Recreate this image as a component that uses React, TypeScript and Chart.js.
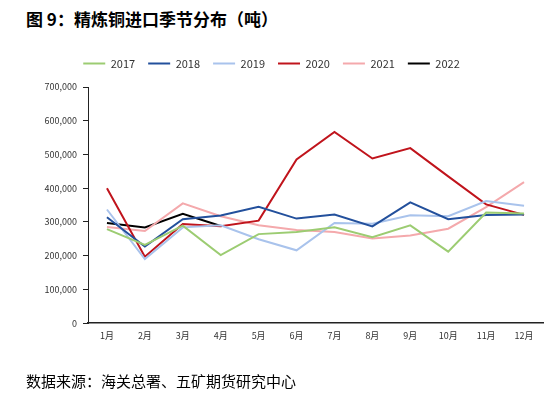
import React, { useEffect, useRef } from "react";
import { Chart, registerables } from "chart.js";

Chart.register(...registerables);

const months = ["1月", "2月", "3月", "4月", "5月", "6月", "7月", "8月", "9月", "10月", "11月", "12月"];
const s2017 = [279000, 232000, 289000, 202000, 264000, 270000, 284000, 255000, 290000, 212000, 328000, 325000];
const s2018 = [314000, 227000, 308000, 319000, 345000, 310000, 322000, 287000, 358000, 308000, 321000, 322000];
const s2019 = [337000, 190000, 284000, 290000, 249000, 216000, 297000, 295000, 320000, 317000, 362000, 348000];
const s2020 = [400000, 197000, 294000, 287000, 304000, 485000, 567000, 488000, 519000, 435000, 352000, 321000];
const s2021 = [285000, 273000, 355000, 317000, 290000, 276000, 270000, 251000, 260000, 280000, 344000, 418000];
const s2022 = [297000, 284000, 324000, 288000];

const seriesNames = ["2017", "2018", "2019", "2020", "2021", "2022"];
const seriesColors = ["#9CCC72", "#23509C", "#A9C3EC", "#C0141C", "#F4A9AC", "#000000"];

const FONT = "'Noto Sans CJK SC', 'Noto Sans', sans-serif";

const legendMargin = {
  id: "legendMargin",
  beforeInit(chart: any) {
    const orig = chart.legend.fit;
    chart.legend.fit = function () {
      orig.bind(chart.legend)();
      this.height += 8;
    };
  },
};

export default function App() {
  const ref = useRef<HTMLCanvasElement | null>(null);

  useEffect(() => {
    document.body.style.margin = "0";
    const all = [s2017, s2018, s2019, s2020, s2021, s2022];
    const chart = new Chart(ref.current as HTMLCanvasElement, {
      type: "line",
      data: {
        labels: months,
        datasets: all.map((d, i) => ({
          label: seriesNames[i],
          data: d,
          borderColor: seriesColors[i],
          backgroundColor: seriesColors[i],
          borderWidth: 2,
          pointRadius: 0,
          tension: 0,
          fill: false,
        })),
      },
      plugins: [legendMargin],
      options: {
        animation: false,
        responsive: false,
        maintainAspectRatio: false,
        layout: { padding: { top: 45, right: 9, bottom: 51, left: 0 } },
        plugins: {
          tooltip: { enabled: false },
          title: { display: false },
          legend: {
            position: "top",
            labels: {
              usePointStyle: true,
              pointStyle: "line",
              pointStyleWidth: 22,
              boxHeight: 2,
              padding: 13,
              color: "#333",
              font: { family: FONT, size: 11 },
            },
          },
        },
        scales: {
          x: {
            offset: true,
            grid: { drawOnChartArea: false, drawTicks: false },
            border: { color: "#222", width: 1.5 },
            ticks: { color: "#333", font: { family: FONT, size: 9 }, padding: 7, maxRotation: 0 },
          },
          y: {
            min: 0,
            max: 700000,
            afterFit: (scale: any) => {
              scale.width = 88;
            },
            grid: { drawOnChartArea: false, drawTicks: true, tickLength: 5, color: "#222" },
            border: { color: "#222", width: 1 },
            ticks: {
              stepSize: 100000,
              color: "#333",
              padding: 6,
              font: { family: FONT, size: 9 },
              callback: (v: any) => Number(v).toLocaleString("en-US"),
            },
          },
        },
      },
    });
    return () => chart.destroy();
  }, []);

  return (
    <div style={{ position: "relative", width: 552, height: 399, background: "#fff", fontFamily: FONT }}>
      <div style={{ position: "absolute", left: 26, top: 6, fontSize: 17, fontWeight: "bold", color: "#000", whiteSpace: "nowrap" }}>
        图 9：精炼铜进口季节分布（吨）
      </div>
      <canvas ref={ref} width={552} height={399} style={{ position: "absolute", left: 0, top: 0 }} />
      <div style={{ position: "absolute", left: 26, top: 370, fontSize: 15, color: "#000", whiteSpace: "nowrap" }}>
        数据来源：海关总署、五矿期货研究中心
      </div>
    </div>
  );
}
